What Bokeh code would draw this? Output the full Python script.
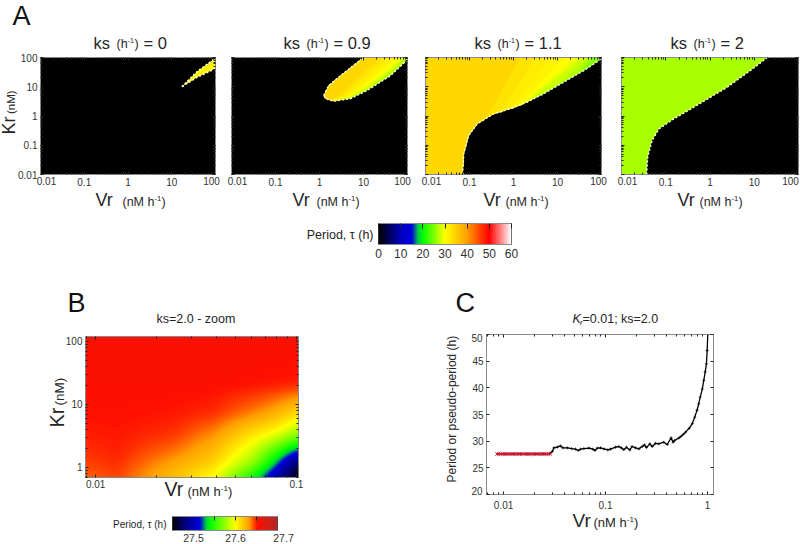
import numpy as np
from bokeh.plotting import figure
from bokeh.layouts import column, row, Spacer
from bokeh.core.properties import value
from bokeh.models import (FixedTicker, LogAxis, LinearAxis, LinearColorMapper,
                          ColumnDataSource)
from bokeh.embed import file_html
from bokeh.resources import INLINE

FONT = "Liberation Sans"
INK = "#262626"
EDGE = "#8a8a8a"

# colour scales
scale_a_tau = [0, 5, 10, 15, 18, 20, 30, 40, 50, 60]
scale_a_rgb = [(0,0,0),(0,0,96),(0,0,192),(0,0,224),(0,208,64),(0,255,0),(255,255,0),(255,160,0),(255,0,0),(255,255,255)]
scale_b_tau = [27.45, 27.475, 27.515, 27.53, 27.54, 27.60, 27.632, 27.652, 27.70]
scale_b_rgb = [(0,0,0),(0,0,112),(0,0,224),(0,208,64),(0,255,0),(255,255,0),(255,160,0),(255,16,0),(176,42,42)]

log_major_a = [0.01, 0.1, 1, 10, 100]
tick_labels_a = ["0.01", "0.1", "1", "10", "100"]

# Panel A: oscillation domains (Vr, Kr) and period in each band
a1_vr = [17, 38, 90, 100, 100, 38, 17]
a1_kr = [10, 33, 85, 88, 42, 21, 10]
a1_tau = 30
a1_inner_vr = [22, 40, 85, 95, 40, 22]
a1_inner_kr = [12, 30, 76, 55, 24, 12]
a1_inner_tau = 31.5

a2_vr = [1.25, 1.62, 3.0, 6.0, 10, 100, 100, 41, 12, 5, 2.1, 1.38, 1.25]
a2_kr = [5, 11, 24, 54, 100, 100, 85, 24, 7.4, 3.9, 3.2, 3.9, 5]
a2_upper_vr = [1.25, 1.62, 3.0, 6.0, 10]
a2_upper_kr = [5, 11, 24, 54, 100]
a2_lower_vr = [100, 41, 12, 5, 2.1, 1.38, 1.25]
a2_lower_kr = [85, 24, 7.4, 3.9, 3.2, 3.9, 5]
a2_band_tau = [29, 30, 31, 32, 33, 34]
a2_band_edge_vr = [[85, 46, 13, 5, 2.1, 1.38], [70, 40, 12, 5, 2.1, 1.38], [55, 30, 10, 4.5, 2.1, 1.38],
                   [45, 22, 9, 4, 2, 1.38], [33, 17, 7.5, 3.5, 1.9, 1.38], [25, 13, 6, 3, 1.8, 1.38]]
a2_band_edge_kr = [[100, 40, 9, 4.2, 3.2, 3.9], [100, 45, 11, 4.6, 3.2, 3.9], [100, 43, 11.5, 4.8, 3.3, 3.9],
                   [100, 42, 12, 5, 3.4, 3.9], [100, 43, 13.5, 5.2, 3.4, 3.9], [100, 45, 15, 5.5, 3.3, 3.9]]

a3_vr = [0.07, 0.074, 0.095, 0.15, 0.355, 0.85, 2.0, 4.9, 11.7, 40, 100]
a3_kr = [0.01, 0.051, 0.21, 0.54, 1.19, 1.78, 2.95, 5.8, 12.5, 36, 90]
a3_base_tau = 24
a3_band_tau = [27, 28, 29, 30, 31, 32, 33, 34]
a3_band_edge_vr = [[62, 30, 7, 4], [50, 10, 4.8], [38, 4.5, 2.6], [28, 2.9, 1.6],
                   [14, 1.8, 1.0], [7, 1, 0.55], [3, 0.6, 0.4], [1.45, 0.3, 0.25]]
a3_band_edge_kr = [[100, 30, 8.5, 5.0], [100, 12, 5.9], [100, 8, 3.6], [100, 6, 2.4],
                   [100, 3.8, 1.8], [100, 2.3, 1.35], [100, 1.8, 1.25], [100, 1.5, 1.0]]

a4_vr = [0.037, 0.039, 0.049, 0.07, 0.15, 0.43, 2.45, 8.2, 18, 20]
a4_kr = [0.01, 0.039, 0.145, 0.36, 0.79, 2.0, 9.7, 36, 90, 100]
a4_tau = 26.5

# Panel B: period table read across the zoomed domain
b_vr = [0.0089, 0.0128, 0.0245, 0.0388, 0.0614, 0.0771, 0.1025]
b_kr = [0.69, 1.15, 2.0, 3.4, 7.1, 21.4, 120]
b_tau = [
    [27.640, 27.645, 27.620, 27.600, 27.540, 27.500, 27.450],
    [27.645, 27.648, 27.630, 27.615, 27.575, 27.535, 27.470],
    [27.648, 27.650, 27.640, 27.625, 27.592, 27.565, 27.530],
    [27.650, 27.651, 27.647, 27.635, 27.610, 27.600, 27.575],
    [27.652, 27.652, 27.651, 27.648, 27.636, 27.628, 27.612],
    [27.653, 27.653, 27.653, 27.653, 27.652, 27.651, 27.650],
    [27.655, 27.655, 27.655, 27.655, 27.655, 27.655, 27.655],
]

# Panel C
c_red_vr = [.00861,.00895,.00933,.00971,.01012,.01052,.01094,.0114,.01186,.01236,.01285,.01337,.01393,.01449,.0151,
            .0157,.01633,.01702,.0177,.01845,.01919,.01995,.0208,.02163,.02254,.02344,.02438,.02541,.02642,.02754,.02864]
c_red_tau = [27.6] * len(c_red_vr)
c_vr = [.0286,.0301,.0312,.0337,.0362,.0382,.0422,.0465,.0508,.054,.0569,.0613,.0687,.0752,.0787,.083,.0893,.0964,
        .1054,.1119,.1253,.135,.1426,.151,.1606,.1733,.1824,.1967,.2123,.229,.241,.252,.272,.287,.309,.333,.373,.403,
        .44,.46,.474,.524,.55,.58,.61,.66,.71,.75,.79,.82,.85,.89,.92,.95,.977,.993,1.007]
c_tau = [27.7,28.1,28.75,28.9,29.1,28.75,28.75,28.6,28.5,28.25,28.5,28.6,28.7,28.5,28.25,28.7,28.75,28.55,
         28.37,28.5,28.87,29.0,28.75,28.4,28.87,28.35,29.0,28.75,28.56,29.0,29.3,28.8,29.5,29.0,29.6,29.5,29.8,29.37,
         30.62,29.8,30.1,30.6,30.9,31.3,31.7,32.4,33.3,34.5,35.8,37.0,38.3,39.8,41.4,43.0,44.5,47.0,50.0]
c_y_ticks = [20, 25, 30, 35, 40, 45, 50]


def palette(rgb_stops, tau_stops):
    t = np.linspace(tau_stops[0], tau_stops[-1], 256)
    rgb = np.array(rgb_stops, dtype=float)
    cols = [np.interp(t, tau_stops, rgb[:, i]) for i in range(3)]
    return ["#%02x%02x%02x" % (int(r), int(g), int(b)) for r, g, b in zip(*cols)]

map_a = LinearColorMapper(palette=palette(scale_a_rgb, scale_a_tau), low=0, high=60)
map_b = LinearColorMapper(palette=palette(scale_b_rgb, scale_b_tau), low=27.45, high=27.70)

BASELINE_SHIFT = 0.36   # the text glyph sits this fraction of its size below the requested baseline


class Panel:
    """A figure placed by page coordinates of its canvas and plot frame."""
    def __init__(self, canvas, frame, x_range, y_range, x_log=True, y_log=True, bg=None):
        cx0, cy0, cx1, cy1 = canvas
        fx0, fy0, fx1, fy1 = frame
        self.mid_px = ((fx0 + fx1) / 2, (fy0 + fy1) / 2)
        self.mid_data = (np.sqrt(x_range[0] * x_range[1]) if x_log else (x_range[0] + x_range[1]) / 2,
                         np.sqrt(y_range[0] * y_range[1]) if y_log else (y_range[0] + y_range[1]) / 2)
        self.p = figure(width=cx1 - cx0, height=cy1 - cy0, output_backend="svg", toolbar_location=None,
                        x_range=x_range, y_range=y_range,
                        x_axis_type="log" if x_log else "linear",
                        y_axis_type="log" if y_log else "linear",
                        min_border_left=fx0 - cx0, min_border_right=cx1 - fx1,
                        min_border_top=fy0 - cy0, min_border_bottom=cy1 - fy1,
                        background_fill_color=bg, border_fill_color="white")
        self.p.grid.visible = False
        self.p.outline_line_color = EDGE

    def text(self, px, py, s, size, color=INK, align="left", angle=0, style="normal"):
        # anchored inside the frame, pushed out with offsets; overlay level is not clipped
        if angle:
            px -= BASELINE_SHIFT * size
        else:
            py -= BASELINE_SHIFT * size
        self.p.text(x=[self.mid_data[0]], y=[self.mid_data[1]], text=[s],
                    x_offset=[px - self.mid_px[0]], y_offset=[py - self.mid_px[1]], angle=[angle],
                    text_font=value(FONT), text_font_size=value(f"{size}px"), text_color=color,
                    text_align=align, text_baseline="alphabetic", text_font_style=style, level="overlay")


def style_axis(ax, ticks, minor, labels=None, size=10):
    ax.ticker = FixedTicker(ticks=list(ticks), minor_ticks=list(minor))
    ax.axis_line_color = EDGE
    ax.major_tick_line_color = "#222222"
    ax.minor_tick_line_color = "#222222"
    ax.major_tick_in, ax.major_tick_out = 3, 0
    ax.minor_tick_in, ax.minor_tick_out = 2, 0
    ax.major_label_text_font = FONT
    ax.major_label_text_font_size = f"{size}px"
    ax.major_label_text_color = "#333333"
    ax.major_label_standoff = 3
    texts = labels if labels is not None else [""] * len(ticks)
    ax.major_label_overrides = {k: t for k, t in zip(ticks, texts)}


def add_opposite(panel, x_ticks, x_minor, y_ticks, y_minor, x_log=True, y_log=True):
    top = (LogAxis if x_log else LinearAxis)()
    right = (LogAxis if y_log else LinearAxis)()
    style_axis(top, x_ticks, x_minor, size=1)
    style_axis(right, y_ticks, y_minor, size=1)
    top.major_label_standoff = right.major_label_standoff = 0
    panel.p.add_layout(top, "above")
    panel.p.add_layout(right, "right")


def log_minor(start, stop):
    out = []
    for d in range(start, stop):
        out += [m * 10.0 ** d for m in range(2, 10)]
    return out


def vr_label(panel, px, base, gap, big=18, small=12.5):
    # Vr (nM h-1)
    panel.text(px, base, "Vr", big)
    x = px + gap
    panel.text(x, base, "(nM h", small)
    x2 = x + 2.56 * small
    panel.text(x2, base - 0.42 * small, "-1", small * 0.62)
    panel.text(x2 + 0.62 * small * 0.9, base, ")", small)


def title_a(panel, px, base, tail):
    panel.text(px, base, "ks", 16.5)
    panel.text(px + 23, base, "(h", 12.5)
    panel.text(px + 23 + 11.2, base - 5, "-1", 7)
    panel.text(px + 23 + 18, base, ")", 12.5)
    panel.text(px + 50, base, tail, 16.5)


def panel_a(canvas, frame, title_x, tail, vr_x, vr_gap, label_100_inset, left_labels=False):
    pan = Panel(canvas, frame, (0.01, 100), (0.01, 100), bg="black")
    minor = log_minor(-2, 2)
    x_text = ["", "0.1", "1", "10", ""]
    style_axis(pan.p.xaxis[0], log_major_a, minor, x_text)
    y_text = tick_labels_a if left_labels else None
    style_axis(pan.p.yaxis[0], log_major_a, minor, y_text)
    add_opposite(pan, log_major_a, minor, log_major_a, minor)
    pan.p.xaxis[0].major_label_standoff = 2
    fx0, fx1, fy1 = frame[0], frame[2], frame[3]
    pan.text(fx0 + 6, fy1 + 10, "0.01", 10, "#333333", "center")
    pan.text(fx1 - label_100_inset, fy1 + 10, "100", 10, "#333333", "center")
    title_a(pan, title_x, 48, tail)
    vr_label(pan, vr_x, 206, vr_gap)
    return pan


def bands(pan, upper_vr, upper_kr, edge_vr, edge_kr, tau):
    xs = [list(upper_vr) + list(e) for e in edge_vr]
    ys = [list(upper_kr) + list(e) for e in edge_kr]
    src = ColumnDataSource(dict(xs=xs, ys=ys, tau=tau))
    pan.p.patches("xs", "ys", source=src, fill_color={"field": "tau", "transform": map_a}, line_color=None)


def dots(pan, vr, kr):
    pan.p.line(vr, kr, line_color="#fffff0", line_width=1.5, line_dash="2 2")


# ---------- Panel A ----------
A1 = panel_a((0, 0, 223, 210), (40, 57, 215, 174), 93, "= 0", 95, 27, 4, left_labels=True)
bands(A1, [], [], [a1_vr, a1_inner_vr], [a1_kr, a1_inner_kr], [a1_tau, a1_inner_tau])
dots(A1, a1_vr[:3], a1_kr[:3])
dots(A1, a1_vr[4:], a1_kr[4:])
A1.text(12, 25, "A", 27, "#111111")
A1.text(15, 134, "Kr", 18, angle=np.pi / 2)
A1.text(15, 113.5, "(nM)", 11.5, angle=np.pi / 2)

A2 = panel_a((223, 0, 416, 210), (231, 57, 407, 174), 283, "= 0.9", 292, 24, 5)
bands(A2, [], [], [a2_vr], [a2_kr], [27])
bands(A2, a2_upper_vr, a2_upper_kr, a2_band_edge_vr, a2_band_edge_kr, a2_band_tau)
dots(A2, a2_upper_vr, a2_upper_kr)
dots(A2, a2_lower_vr, a2_lower_kr)

A3 = panel_a((416, 0, 611, 210), (425, 57, 601, 174), 474, "= 1.1", 483, 22, 3)
corner_vr = [0.01, 0.01]
corner_kr = [0.01, 100]
bands(A3, corner_vr, corner_kr, [[100] + a3_vr[::-1]], [[100] + a3_kr[::-1]], [a3_base_tau])
bands(A3, corner_vr + [100], corner_kr + [100], [[a3_vr[-1]] + a3_vr[-2::-1]], [[a3_kr[-1]] + a3_kr[-2::-1]], [25.5])
for t, ex, ey in zip(a3_band_tau, a3_band_edge_vr, a3_band_edge_kr):
    low_vr = [v for v in a3_vr if v < ex[-1]]
    low_kr = [k for v, k in zip(a3_vr, a3_kr) if v < ex[-1]]
    bands(A3, corner_vr, corner_kr, [ex + low_vr[::-1]], [ey + low_kr[::-1]], [t])
dots(A3, a3_vr, a3_kr)

A4 = panel_a((611, 0, 800, 210), (621, 57, 798, 174), 670, "= 2", 677, 22, 8)
bands(A4, corner_vr, corner_kr, [a4_vr[::-1]], [a4_kr[::-1]], [a4_tau])
dots(A4, a4_vr, a4_kr)

# ---------- Colour bar A ----------
CA = Panel((280, 210, 530, 268), (378, 223, 511, 244), (0, 60), (0, 1), x_log=False, y_log=False)
CA.p.image(image=[np.linspace(0, 60, 256).reshape(1, -1)], x=0, y=0, dw=60, dh=1, color_mapper=map_a)
cb_ticks_a = [0, 10, 20, 30, 40, 50, 60]
style_axis(CA.p.xaxis[0], cb_ticks_a, [], [str(t) for t in cb_ticks_a], size=12)
CA.p.xaxis[0].major_tick_in = 0
CA.p.xaxis[0].major_label_standoff = 4
CA.p.yaxis.visible = False
top_a = LinearAxis()
style_axis(top_a, cb_ticks_a, [], size=1)
top_a.major_tick_in = 5
CA.p.add_layout(top_a, "above")
CA.p.outline_line_color = "#444444"
CA.text(373, 238.5, "Period, \u03c4 (h)", 12.5, align="right")

# ---------- Panel B ----------
b_x = (0.0089, 0.1025)
b_y = (0.69, 120)
B = Panel((0, 268, 400, 500), (85, 336, 298, 477), b_x, b_y)
grid_x = np.linspace(np.log10(b_x[0]), np.log10(b_x[1]), 214)
grid_y = np.linspace(np.log10(b_y[0]), np.log10(b_y[1]), 142)
tab = np.array(b_tau)
cols = np.array([np.interp(grid_x, np.log10(b_vr), r) for r in tab])
smooth = np.array([np.interp(grid_y, np.log10(b_kr), c) for c in cols.T]).T
# soften the table's cell edges so the shading runs evenly, as in the source
kernel = np.ones(15) / 15
pad = np.pad(smooth, 7, mode="edge")
pad = np.apply_along_axis(lambda v: np.convolve(v, kernel, mode="same"), 0, pad)
pad = np.apply_along_axis(lambda v: np.convolve(v, kernel, mode="same"), 1, pad)
smooth = pad[7:-7, 7:-7]
B.p.image(image=[smooth], x=b_x[0], y=b_y[0], dw=b_x[1] - b_x[0], dh=b_y[1] - b_y[0], color_mapper=map_b)
bx_major = [0.01, 0.1]
by_major = [1, 10, 100]
bx_minor = [v for v in log_minor(-3, 0) if b_x[0] < v < b_x[1]]
by_minor = [v for v in log_minor(-1, 2) if b_y[0] < v < b_y[1]]
style_axis(B.p.xaxis[0], bx_major, bx_minor, ["0.01", "0.1"])
style_axis(B.p.yaxis[0], by_major, by_minor, ["1", "10", "100"])
B.p.xaxis[0].major_label_standoff = 2
add_opposite(B, bx_major, bx_minor, by_major, by_minor)
B.text(67, 312, "B", 27, "#111111")
B.text(156, 323, "ks=2.0 - zoom", 12.5)
B.text(64, 427, "Kr", 20, angle=np.pi / 2)
B.text(64, 405, "(nM)", 13.5, angle=np.pi / 2)
vr_label(B, 164, 496, 23, big=19.5, small=13)

# ---------- Colour bar B ----------
CB = Panel((0, 500, 400, 544), (172, 516, 277, 533), (27.45, 27.70), (0, 1), x_log=False, y_log=False)
CB.p.image(image=[np.linspace(27.45, 27.70, 256).reshape(1, -1)], x=27.45, y=0, dw=0.25, dh=1, color_mapper=map_b)
cb_ticks_b = [27.5, 27.6, 27.7]
style_axis(CB.p.xaxis[0], cb_ticks_b, [], ["27.5", "27.6", ""], size=10.5)
CB.p.xaxis[0].major_tick_in = 0
CB.p.xaxis[0].major_label_standoff = 3
CB.p.yaxis.visible = False
top_b = LinearAxis()
style_axis(top_b, [27.55, 27.6, 27.65], [], size=1)
top_b.major_tick_in = 4
CB.p.add_layout(top_b, "above")
CB.p.outline_line_color = "#444444"
CB.text(166, 529.5, "Period, \u03c4 (h)", 10, align="right")
CB.text(283, 543, "27.7", 10.5, "#333333", "center")

# ---------- Panel C ----------
C = Panel((400, 268, 800, 544), (486, 334, 713, 494), (0.0068, 1.146), (20, 50), y_log=False)
cx_major = [0.01, 0.1, 1]
cx_minor = [v for v in log_minor(-3, 1) if 0.0068 < v < 1.146]
style_axis(C.p.xaxis[0], cx_major, cx_minor, ["0.01", "0.1", "1"])
C.p.xaxis[0].major_label_standoff = 6
y_text = ["", "25", "30", "35", "40", "45", ""]
style_axis(C.p.yaxis[0], c_y_ticks, [], y_text)
add_opposite(C, cx_major, cx_minor, c_y_ticks, [], y_log=False)
C.p.line(c_vr, c_tau, line_color="black", line_width=1.3)
C.p.scatter(c_vr, c_tau, marker="cross", size=3, line_color="black", line_width=0.7)
C.p.line(c_red_vr, c_red_tau, line_color="#b01020", line_width=1.2)
C.p.scatter(c_red_vr, c_red_tau, marker="x", size=4.5, line_color="#c8102e", line_width=1)
C.text(482, 341, "50", 10, "#333333", "right")
C.text(482, 494, "20", 10, "#333333", "right")
C.text(455, 312, "C", 27, "#111111")
C.text(572, 323, "K", 12.5, style="italic")
C.text(579.5, 325, "r", 8, style="italic")
C.text(582, 323, "=0.01; ks=2.0", 12.5)
C.text(456, 482, "Period or pseudo-period (h)", 12, angle=np.pi / 2)
vr_label(C, 572, 527, 21, big=19, small=13)

root = column(
    row(A1.p, A2.p, A3.p, A4.p, spacing=0),
    row(Spacer(width=280, height=58), CA.p, spacing=0),
    row(column(B.p, row(CB.p, spacing=0), spacing=0), C.p, spacing=0),
    spacing=0,
)
open("out.html", "w").write(file_html(root, INLINE))
